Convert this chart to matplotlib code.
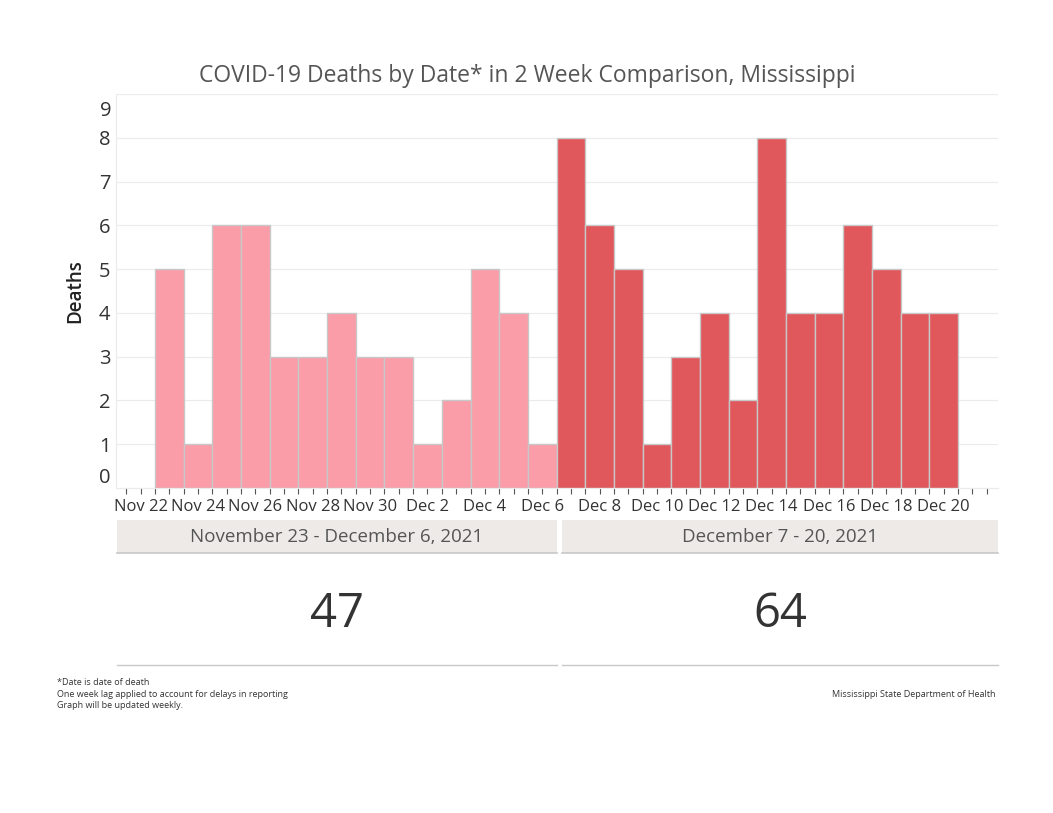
import matplotlib.pyplot as plt
import matplotlib.dates as mdates
from matplotlib.patches import Rectangle
from matplotlib.lines import Line2D
import numpy as np
import pandas as pd

plt.rcParams['font.family'] = ['Open Sans', 'DejaVu Sans']

# data
period1_dates = pd.date_range("2021-11-23", "2021-12-06")
period1_deaths = [5, 1, 6, 6, 3, 3, 4, 3, 3, 1, 2, 5, 4, 1]
period2_dates = pd.date_range("2021-12-07", "2021-12-20")
period2_deaths = [8, 6, 5, 1, 3, 4, 2, 8, 4, 4, 6, 5, 4, 4]
period_labels = ["November 23 - December 6, 2021", "December 7 - 20, 2021"]
yticks = list(range(0, 10))

pink = "#FA9DA8"
red = "#E0575C"
edge = "#C8C8C8"

fig = plt.figure(figsize=(10.53, 8.13), dpi=100)
ax = fig.add_axes([116/1053, 1-488/813, 882/1053, 394/813])

ax.bar(period1_dates, period1_deaths, width=1.0, color=pink, edgecolor=edge, linewidth=1)
ax.bar(period2_dates, period2_deaths, width=1.0, color=red, edgecolor=edge, linewidth=1)

x0 = mdates.date2num(pd.Timestamp("2021-11-23"))
ax.set_xlim(x0 - 1.86, x0 + 28.89)
ax.set_ylim(0, 9)

# x ticks: labels every 2 days, marks every half day
ticks = pd.date_range("2021-11-22", "2021-12-20", freq="2D")
ax.set_xticks(ticks)
ax.set_xticklabels([f"{d:%b} {d.day}" for d in ticks])
ax.xaxis.set_minor_locator(mdates.HourLocator(byhour=[0, 12]))
ax.tick_params(axis="x", which="both", length=4, width=0.8, color="#555555",
               labelsize=12, labelcolor="#333333", pad=4)

# y ticks: top label is pushed down inside the axis like tableau does
ax.set_yticks(yticks)
ax.set_yticklabels([str(v) for v in yticks[:-1]] + [""])
ax.tick_params(axis="y", length=0, labelsize=14.5, labelcolor="#333333", pad=4)
ax.get_yticklabels()[0].set_verticalalignment("bottom")
ax.annotate(str(yticks[-1]), xy=(0, yticks[-1]), xycoords=ax.get_yaxis_transform(),
            xytext=(-2.9, -5), textcoords="offset points", ha="right", va="top",
            fontsize=14.5, color="#333333")

ax.grid(axis="y", color="#EBEBEB", linewidth=0.8)
ax.set_axisbelow(True)
for s in ["top", "right"]:
    ax.spines[s].set_visible(False)
ax.spines["left"].set_color("#EBEBEB")
ax.spines["bottom"].set_color("#EBEBEB")
ax.set_ylabel("Deaths", fontsize=13.5, fontweight="semibold", color="#222222", labelpad=10)

fig.text(527/1053, 1-76/813, "COVID-19 Deaths by Date* in 2 Week Comparison, Mississippi",
         ha="center", va="center", fontsize=16.5, color="#555555")

# header bands and totals
totals = [sum(period1_deaths), sum(period2_deaths)]
bands = [(117, 557), (562, 998)]
for (xa, xb), lab, tot in zip(bands, period_labels, totals):
    fig.patches.append(Rectangle((xa/1053, 1-553/813), (xb-xa)/1053, 33/813,
                                 transform=fig.transFigure, facecolor="#EEEAE7",
                                 edgecolor="none", zorder=0))
    fig.lines.append(Line2D([xa/1053, xb/1053], [1-553/813]*2, transform=fig.transFigure,
                            color="#C8C8C8", linewidth=1.2))
    fig.lines.append(Line2D([xa/1053, xb/1053], [1-665/813]*2, transform=fig.transFigure,
                            color="#C8C8C8", linewidth=1.0))
    fig.text((xa+xb)/2/1053, 1-537/813, lab, ha="center", va="center",
             fontsize=13.5, color="#555555")
    fig.text((xa+xb)/2/1053, 1-614/813, str(tot), ha="center", va="center",
             fontsize=34, color="#333333")

fig.text(57/1053, 1-694/813, "*Date is date of death\nOne week lag applied to account for delays in reporting\nGraph will be updated weekly.",
         ha="left", va="center", fontsize=6.5, color="#333333", linespacing=1.35)
fig.text(995/1053, 1-694/813, "Mississippi State Department of Health",
         ha="right", va="center", fontsize=6.5, color="#333333")

fig.savefig("out.png", dpi=100)
